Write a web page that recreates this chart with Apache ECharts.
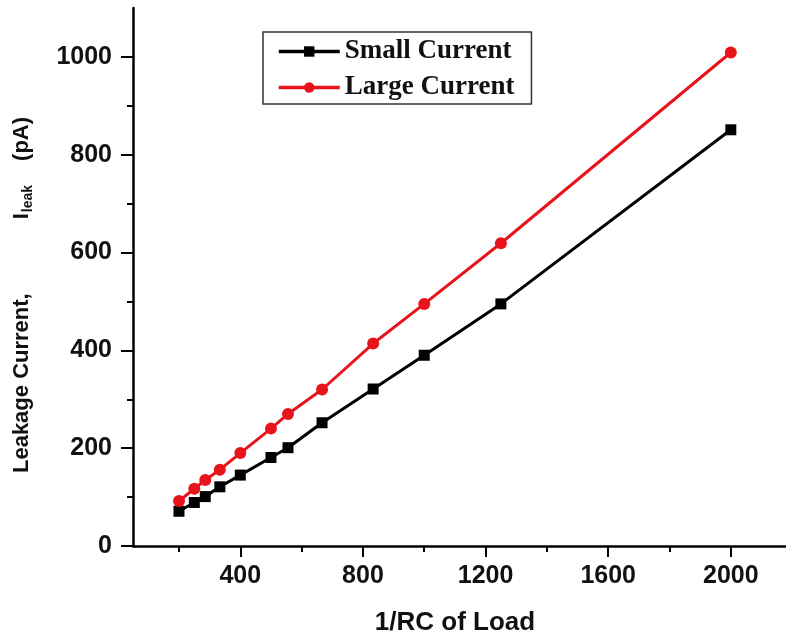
<!DOCTYPE html>
<html>
<head>
<meta charset="utf-8">
<script src="https://cdn.jsdelivr.net/npm/echarts@6/dist/echarts.min.js"></script>
<style>
html, body { margin: 0; padding: 0; background: #fff; }
#container { width: 786px; height: 642px; }
</style>
</head>
<body>
<div id="container"></div>
<script>
// 1/RC of load
var xValues = [200, 250, 285.7, 333.3, 400, 500, 555.6, 666.7, 833.3, 1000, 1250, 2000];
// leakage current (pA)
var smallCurrent = [71, 89, 101, 121, 145, 181, 201, 252, 321, 390, 495, 851];
var largeCurrent = [92, 117, 135, 156, 190, 240, 270, 320, 414, 495, 619, 1009];
var xMajorTicks = [400, 800, 1200, 1600, 2000];
var xMinorTicks = [200, 600, 1000, 1400, 1800];
var yMajorTicks = [0, 200, 400, 600, 800, 1000];
var yMinorTicks = [100, 300, 500, 700, 900];

function pairs(xs, ys) {
    var out = [];
    for (var i = 0; i < xs.length; i++) {
        out.push([xs[i], ys[i]]);
    }
    return out;
}
function plain(v) {
    return String(v);
}

var tickFont = {color: '#111', fontFamily: 'Liberation Sans', fontWeight: 'bold', fontSize: 25};

var dom = document.getElementById("container");
var myChart = echarts.init(dom);
var option = {
    animation: false,
    grid: {left: 133, right: 0, top: 8, bottom: 96, containLabel: false},
    legend: {
        orient: 'vertical',
        left: 263,
        top: 32,
        padding: [6, 17, 3, 14],
        itemGap: 9,
        itemWidth: 61,
        itemHeight: 13,
        borderColor: '#333',
        borderWidth: 1.5,
        lineStyle: {width: 3.5},
        textStyle: {color: '#111', fontFamily: 'Liberation Serif', fontWeight: 'bold', fontSize: 27, lineHeight: 27},
        data: ['Small Current', 'Large Current']
    },
    xAxis: [{
        type: 'value',
        min: 50,
        max: 2180,
        name: '1/RC of Load',
        nameLocation: 'middle',
        nameGap: 64,
        nameTextStyle: {color: '#111', fontFamily: 'Liberation Sans', fontWeight: 'bold', fontSize: 26, padding: [0, 9, 0, 0]},
        splitLine: {show: false},
        axisLine: {show: true, lineStyle: {color: '#000', width: 2.5}},
        axisTick: {show: true, inside: false, length: 11, customValues: xMajorTicks, lineStyle: {color: '#000', width: 2}},
        axisLabel: Object.assign({margin: 18, customValues: xMajorTicks, formatter: plain}, tickFont)
    }, {
        type: 'value',
        min: 50,
        max: 2180,
        position: 'bottom',
        splitLine: {show: false},
        axisLine: {show: false},
        axisTick: {show: true, inside: false, length: 6, customValues: xMinorTicks, lineStyle: {color: '#000', width: 2}},
        axisLabel: {show: false}
    }],
    yAxis: [{
        type: 'value',
        min: 0,
        max: 1100,
        name: '{main|Leakage Current,}{big|I}{sub|leak}{unit|(pA)}',
        nameLocation: 'middle',
        nameGap: 98,
        nameTextStyle: {
            color: '#111', fontFamily: 'Liberation Sans', fontWeight: 'bold', fontSize: 22,
            rich: {
                main: {fontFamily: 'Liberation Sans', fontWeight: 'bold', fontSize: 22, color: '#111', lineHeight: 26},
                big: {fontFamily: 'Liberation Sans', fontWeight: 'bold', fontSize: 22, color: '#111', lineHeight: 26, padding: [0, 0, 0, 74]},
                sub: {fontFamily: 'Liberation Sans', fontWeight: 'bold', fontSize: 14, color: '#111', verticalAlign: 'bottom', lineHeight: 22, padding: [0, 0, 0, 1]},
                unit: {fontFamily: 'Liberation Sans', fontWeight: 'bold', fontSize: 22, color: '#111', lineHeight: 26, padding: [0, 36, 0, 24]}
            }
        },
        splitLine: {show: false},
        axisLine: {show: true, lineStyle: {color: '#000', width: 2.5}},
        axisTick: {show: true, inside: false, length: 12, customValues: yMajorTicks, lineStyle: {color: '#000', width: 2}},
        axisLabel: Object.assign({margin: 21, customValues: yMajorTicks, formatter: plain}, tickFont)
    }, {
        type: 'value',
        min: 0,
        max: 1100,
        position: 'left',
        splitLine: {show: false},
        axisLine: {show: false},
        axisTick: {show: true, inside: false, length: 6, customValues: yMinorTicks, lineStyle: {color: '#000', width: 2}},
        axisLabel: {show: false}
    }],
    series: [{
        name: 'Small Current',
        type: 'line',
        data: pairs(xValues, smallCurrent),
        symbol: 'rect',
        symbolSize: 11,
        color: '#000',
        lineStyle: {color: '#000', width: 3},
        itemStyle: {color: '#000'}
    }, {
        name: 'Large Current',
        type: 'line',
        data: pairs(xValues, largeCurrent),
        symbol: 'circle',
        symbolSize: 12,
        color: '#e8141b',
        lineStyle: {color: '#e8141b', width: 3},
        itemStyle: {color: '#e8141b'}
    }]
};
if (option && typeof option === "object") {
    myChart.setOption(option, true);
}
</script>
</body>
</html>
